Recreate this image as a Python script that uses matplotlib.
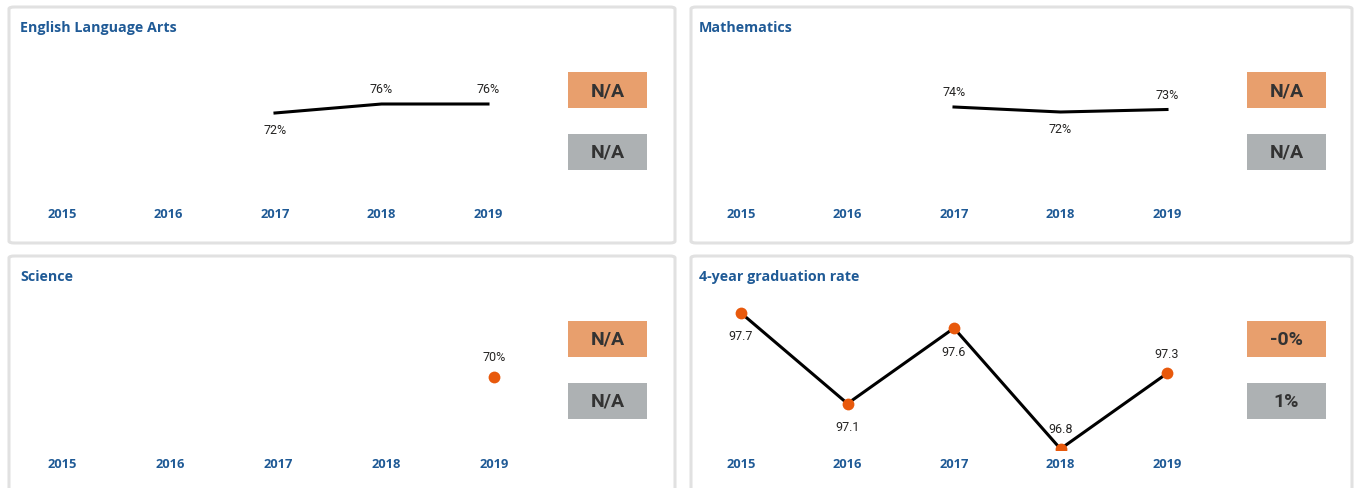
import numpy as np
import matplotlib
matplotlib.use("Agg")
import matplotlib.pyplot as plt
from matplotlib.patches import FancyBboxPatch, Rectangle

# ---- data ----
years = [2015, 2016, 2017, 2018, 2019]
titles = ["English Language Arts", "Mathematics", "Science", "4-year graduation rate"]
ela = [np.nan, np.nan, 72, 76, 76]
math = [np.nan, np.nan, 74, 72, 73]
science = [np.nan, np.nan, np.nan, np.nan, 70]
grad = [97.7, 97.1, 97.6, 96.8, 97.3]
kpi_top = ["N/A", "N/A", "N/A", "-0%"]
kpi_bottom = ["N/A", "N/A", "N/A", "1%"]

# label side per point (+1 above, -1 below)
ela_side = [0, 0, -1, 1, 1]
math_side = [0, 0, 1, -1, 1]
science_side = [0, 0, 0, 0, 1]
grad_side = [-1, -1, -1, 1, 1]

W, H = 1361, 489
DPI = 100
BLUE = "#1f5a96"
ORANGE = "#e8590c"
NARROW = ["Liberation Sans Narrow", "Roboto", "DejaVu Sans"]
plt.rcParams["font.family"] = ["Open Sans", "DejaVu Sans"]

fig = plt.figure(figsize=(W / DPI, H / DPI), dpi=DPI)
fig.patch.set_facecolor("white")


def px_rect(x0, y0, x1, y1):
    return [x0 / W, 1 - y1 / H, (x1 - x0) / W, (y1 - y0) / H]


# panel frames (pixel boxes) and title x positions
panels = [(9, 8, 675, 244), (691, 8, 1352, 244), (9, 257, 675, 520), (691, 257, 1352, 520)]
title_x = [20, 699, 20, 699]
for (x0, y0, x1, y1), tx, title in zip(panels, title_x, titles):
    fb = FancyBboxPatch((x0 / W, 1 - y1 / H), (x1 - x0) / W, (y1 - y0) / H,
                        boxstyle="round,pad=0,rounding_size=0.004",
                        transform=fig.transFigure, facecolor="white",
                        edgecolor="#e1e1e1", linewidth=2.2, zorder=-5)
    fig.patches.append(fb)
    fig.text(tx / W, 1 - (y0 + 20) / H, title, color=BLUE,
             fontsize=10.3, fontweight="bold", va="center", ha="left")

# chart specs: series, sides, axes pixel box, ylim, markers, label format
charts = [
    (ela, ela_side, (8.75, 61, 541.25, 201), (76 - 96 / 2.25, 76 + 44 / 2.25), False, "{:.0f}%"),
    (math, math_side, (687.75, 61, 1220.25, 201), (72 - 88 / 2.5, 72 + 52 / 2.5), False, "{:.0f}%"),
    (science, science_side, (8, 301, 548, 451), (70 - 73 / 2.25, 70 + 77 / 2.25), True, "{:.0f}%"),
    (grad, grad_side, (687.75, 291, 1220.25, 451), (97.7 - 137 / 151, 97.7 + 23 / 151), True, "{:.1f}"),
]

for vals, sides, (x0, y0, x1, y1), ylim, markers, fmt in charts:
    ax = fig.add_axes(px_rect(x0, y0, x1, y1))
    ax.set_facecolor("none")
    ax.plot(years, vals, color="black", lw=2.2, zorder=2)
    if markers:
        ax.plot(years, vals, ls="none", marker="o", ms=8.5, color=ORANGE,
                markeredgewidth=0, zorder=3)
    for yr, v, s in zip(years, vals, sides):
        if np.isnan(v):
            continue
        off = 11 if s > 0 else -12
        if markers:
            off = 14.5 if s > 0 else -16.5
        ax.annotate(fmt.format(v), (yr, v), xytext=(0, off), textcoords="offset points",
                    ha="center", va="center", fontsize=9, color="#252423",
                    family=NARROW)
    ax.set_xlim(2014.5, 2019.5)
    ax.set_ylim(*ylim)
    ax.set_xticks(years)
    ax.set_xticklabels([str(y) for y in years], color=BLUE, fontweight="bold", fontsize=9.3)
    ax.tick_params(axis="x", length=0, pad=5)
    ax.set_yticks([])
    for sp in ax.spines.values():
        sp.set_visible(False)

# KPI boxes
kpi_x = [568, 1247, 568, 1247]
kpi_y = [73, 73, 322, 322]
for kx, ky, t1, t2 in zip(kpi_x, kpi_y, kpi_top, kpi_bottom):
    for dy, txt, col in [(0, t1, "#e89f6d"), (62, t2, "#adb1b3")]:
        r = Rectangle((kx / W, 1 - (ky + dy + 36) / H), 79 / W, 36 / H,
                      transform=fig.transFigure, facecolor=col, edgecolor="none")
        fig.patches.append(r)
        fig.text((kx + 39.5) / W, 1 - (ky + dy + 18) / H, txt, ha="center", va="center",
                 fontsize=14, fontweight="bold", color="#333333", family=NARROW)

fig.savefig("out.png", dpi=DPI)
